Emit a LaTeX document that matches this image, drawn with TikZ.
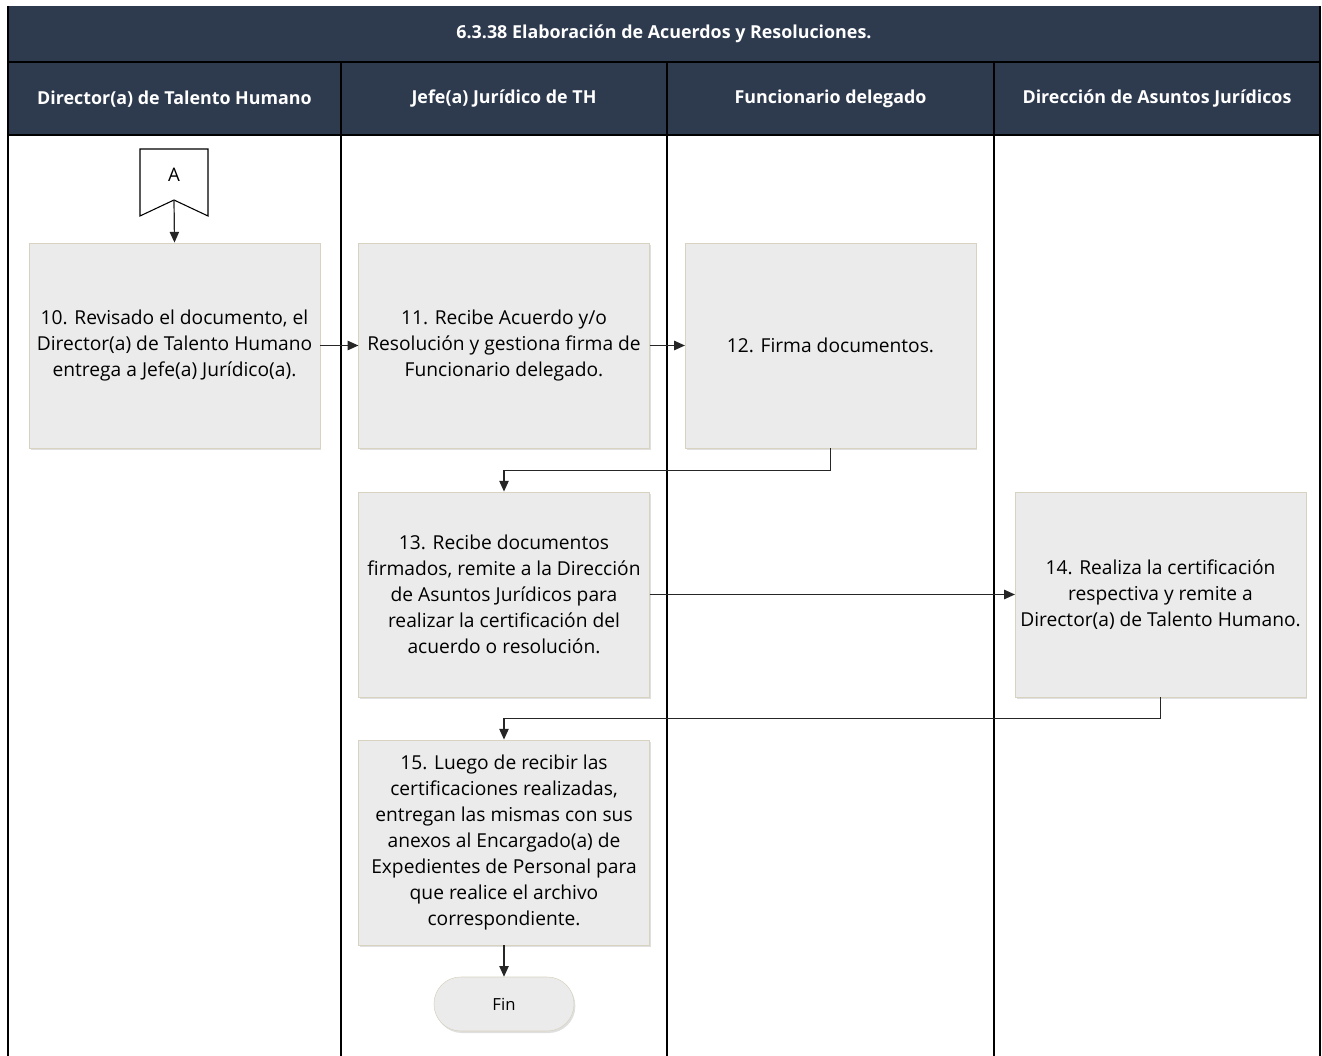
\documentclass[tikz,border=0pt]{standalone}
\usepackage{fontspec}
\setmainfont{Open Sans}
\usetikzlibrary{arrows.meta,shadows}

\definecolor{encabezado}{HTML}{2E3A4E}
\definecolor{relleno}{HTML}{EBEBEB}
\definecolor{borde}{HTML}{D8D3C0}

\tikzset{
  paso/.style={draw=borde, fill=relleno, minimum width=218pt, minimum height=154pt,
    inner sep=0pt, align=center, font=\fontsize{14.4}{19.5}\selectfont,
    drop shadow={shadow xshift=1pt, shadow yshift=-1.5pt, opacity=.25}},
  carril/.style={text=white, font=\bfseries\fontsize{13.4}{15}\selectfont},
  flecha/.style={-{Triangle[length=8pt,width=7pt]}, line width=0.9pt, draw=black!85},
}

\begin{document}
\begin{tikzpicture}[x=0.75pt,y=-0.75pt]
    \useasboundingbox (0,0) rectangle (1322,1056);

    % Encabezados
    \fill[encabezado] (8,6) rectangle (1320,135);
    \draw[line width=0.9pt] (8,62) -- (1320,62);
    \draw[line width=0.9pt] (8,135) -- (1320,135);
    \foreach \x in {8,341,667,994,1320}
        \draw[line width=0.9pt] (\x,62) -- (\x,1056);
    \draw[line width=0.9pt] (8,6) -- (8,62);
    \draw[line width=0.9pt] (1320,6) -- (1320,62);

    \node[carril] (titulo) at (664,34) {6.3.38 Elaboración de Acuerdos y Resoluciones.};
    \node[carril] (c1) at (174.5,99) {Director(a) de Talento Humano};
    \node[carril] (c2) at (504,99) {Jefe(a) Jurídico de TH};
    \node[carril] (c3) at (830.5,99) {Funcionario delegado};
    \node[carril] (c4) at (1157,99) {Dirección de Asuntos Jurídicos};

    % Conector A
    \draw[line width=0.8pt, fill=white] (140,149) -- (208,149) -- (208,216) -- (174,200) -- (140,216) -- cycle;
    \node[font=\fontsize{14}{16}\selectfont] (a) at (174,175) {A};
    \coordinate (afin) at (174,200);

    % Pasos
    \node[paso] (p10) at (174.5,345.5) {10. Revisado el documento, el\\Director(a) de Talento Humano\\entrega a Jefe(a) Jurídico(a).};
    \node[paso] (p11) at (504,345.5) {11. Recibe Acuerdo y/o\\Resolución y gestiona firma de\\Funcionario delegado.};
    \node[paso] (p12) at (830.5,345.5) {12. Firma documentos.};
    \node[paso] (p13) at (504,594.5) {13. Recibe documentos\\firmados, remite a la Dirección\\de Asuntos Jurídicos para\\realizar la certificación del\\acuerdo o resolución.};
    \node[paso] (p14) at (1160.5,594.5) {14. Realiza la certificación\\respectiva y remite a\\Director(a) de Talento Humano.};
    \node[paso] (p15) at (504,842.5) {15. Luego de recibir las\\certificaciones realizadas,\\entregan las mismas con sus\\anexos al Encargado(a) de\\Expedientes de Personal para\\que realice el archivo\\correspondiente.};
    \node[paso, minimum width=105pt, minimum height=40.5pt, rounded corners=20pt,
          font=\fontsize{12.5}{14}\selectfont] (fin) at (504,1004) {Fin};

    % Flujo
    \draw[flecha] (afin) -- (p10.north);
    \draw[flecha] (p10.east) -- (p11.west);
    \draw[flecha] (p11.east) -- (p12.west);
    \draw[flecha] (p12.south) -- ++(0,22) -| (p13.north);
    \draw[flecha] (p13.east) -- (p14.west);
    \draw[flecha] (p14.south) -- ++(0,21) -| (p15.north);
    \draw[flecha] (p15.south) -- (fin.north);
\end{tikzpicture}
\end{document}
